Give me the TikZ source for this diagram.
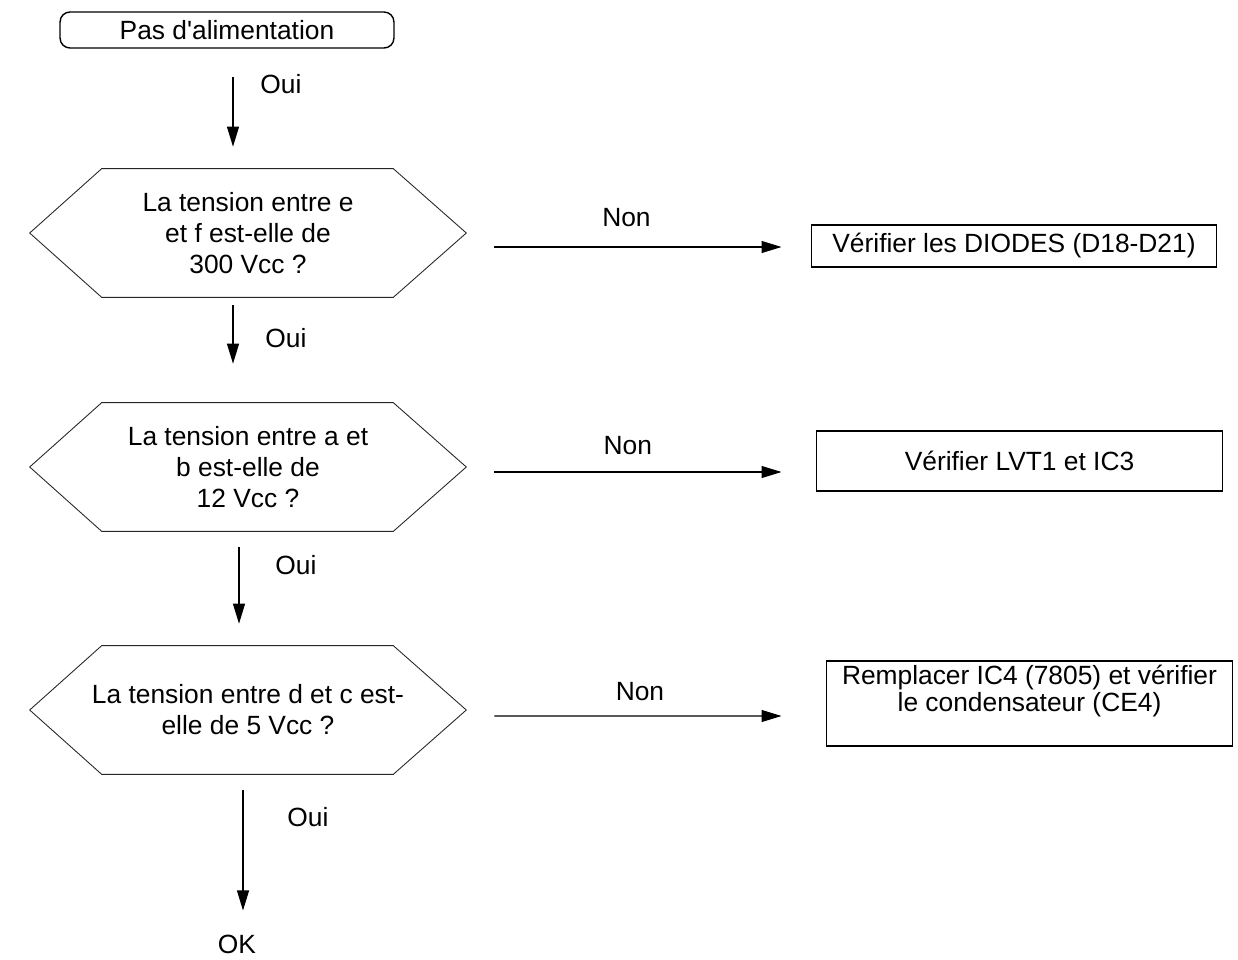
\documentclass[tikz,border=0pt]{standalone}
\usepackage{fontspec}
\setmainfont{Liberation Sans}
\usetikzlibrary{shapes}
\usetikzlibrary{arrows.meta}
\usetikzlibrary{calc}
\usetikzlibrary{positioning}

\begin{document}
\begin{tikzpicture}[x=0.02cm, y=-0.02cm, every node/.style={font=\fontsize{15}{17.6}\selectfont, align=center},
	  term/.style={rectangle, rounded corners=0.2cm, draw, line width=0.8pt, minimum width=6.68cm, minimum height=0.72cm},
	  cond/.style={rectangle, minimum width=8.72cm, minimum height=2.56cm},
	  hexa/.style={draw=black!85, line width=0.5pt},
	  act/.style={rectangle, draw, line width=0.6pt, minimum width=8.14cm},
	  arr/.style={-{Triangle[length=0.4cm,width=0.24cm]}, line width=0.6pt}]
	  \useasboundingbox (0,0) rectangle (1238,960);
	  \node[term] (start) at (227,30) {Pas d\textquotesingle alimentation};
	  \node[cond] (q1) at (248,233) {La tension entre e\\et f est-elle de\\300 Vcc ?};
	  \node[cond] (q2) at (248,467) {La tension entre a et\\b est-elle de\\12 Vcc ?};
	  \node[cond] (q3) at (248,710) {La tension entre d et c est-\\elle de 5 Vcc ?};
	  \node[act, minimum width=8.12cm, minimum height=0.84cm] (b1) at (1014,246) {V\'erifier les DIODES (D18-D21)};
	  \node[act, minimum height=1.2cm] (b2) at (1019.5,461) {V\'erifier LVT1 et IC3};
	  \node[act, minimum height=1.7cm, inner ysep=2pt, text depth=0.62cm, font=\fontsize{15}{15.6}\selectfont] (b3) at (1029.5,703.5) {Remplacer IC4 (7805) et v\'erifier\\le condensateur (CE4)};
	  \node (ok) at (237,944) {OK};
%
	  \foreach \q in {q1,q2,q3}
	    \draw[hexa] (\q.west) -- ($(\q.north west)+(72,0)$) -- ($(\q.north east)+(-73,0)$) -- (\q.east)
	      -- ($(\q.south east)+(-73,0)$) -- ($(\q.south west)+(72,0)$) -- cycle;
%
	  \path[arr]
	    ($(start.south)+(6,28)$) edge node [pos=0.1, right=0.42cm] {Oui} ($(q1.north)+(-15,-22)$)
	    ($(q1.south)+(-15,8)$) edge node [pos=0.56, right=0.52cm] {Oui} ($(q2.north)+(-15,-39)$)
	    ($(q2.south)+(-9,16)$) edge node [pos=0.23, right=0.6cm] {Oui} ($(q3.north)+(-9,-22)$)
	    ($(q3.south)+(-5,16)$) edge node [pos=0.225, right=0.76cm] {Oui} ($(ok.north)+(6,-18)$)
	    ($(q1.east)+(28,14)$) edge node [pos=0.46, above=0.27cm] {Non} ($(b1.west)+(-29,1)$)
	    ($(q2.east)+(28,5)$) edge node [pos=0.465, above=0.21cm] {Non} ($(b2.west)+(-34,11)$)
	    ($(q3.east)+(28,6)$) edge node [pos=0.507, above=0.17cm] {Non} ($(b3.west)+(-44,12.5)$);
	\end{tikzpicture}
\end{document}
